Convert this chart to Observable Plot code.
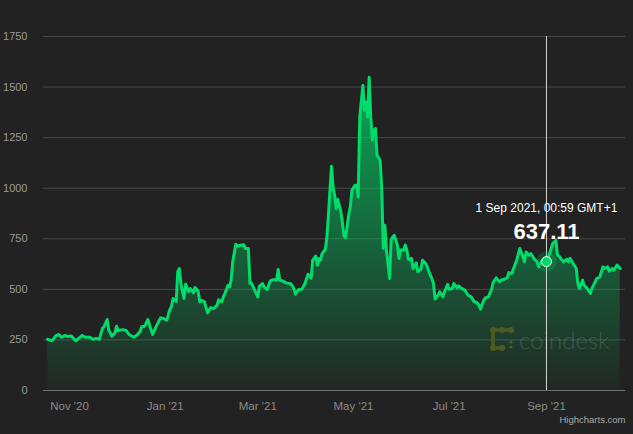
<!DOCTYPE html>
<html><head><meta charset="utf-8">
<script src="https://cdn.jsdelivr.net/npm/d3@7"></script>
<script src="https://cdn.jsdelivr.net/npm/@observablehq/plot@0.6"></script>
<style>
html,body{margin:0;padding:0;background:#222;}
#chart{width:633px;height:434px;}
</style></head><body><div id="chart"></div>
<script>
const dates = ["2020-10-18","2020-10-21","2020-10-23","2020-10-25","2020-10-27","2020-10-29","2020-10-31","2020-11-02","2020-11-05","2020-11-07","2020-11-09","2020-11-11","2020-11-14","2020-11-16","2020-11-18","2020-11-20","2020-11-22","2020-11-23","2020-11-25","2020-11-26","2020-11-28","2020-11-30","2020-12-01","2020-12-02","2020-12-05","2020-12-07","2020-12-09","2020-12-12","2020-12-14","2020-12-16","2020-12-17","2020-12-19","2020-12-21","2020-12-22","2020-12-24","2020-12-26","2020-12-27","2020-12-29","2020-12-31","2021-01-02","2021-01-04","2021-01-05","2021-01-06","2021-01-08","2021-01-09","2021-01-10","2021-01-11","2021-01-13","2021-01-14","2021-01-16","2021-01-17","2021-01-19","2021-01-20","2021-01-22","2021-01-23","2021-01-24","2021-01-26","2021-01-28","2021-01-30","2021-02-01","2021-02-03","2021-02-04","2021-02-06","2021-02-07","2021-02-08","2021-02-10","2021-02-11","2021-02-12","2021-02-13","2021-02-15","2021-02-16","2021-02-18","2021-02-20","2021-02-21","2021-02-23","2021-02-24","2021-02-25","2021-02-27","2021-03-01","2021-03-02","2021-03-04","2021-03-05","2021-03-07","2021-03-09","2021-03-11","2021-03-13","2021-03-14","2021-03-15","2021-03-17","2021-03-19","2021-03-22","2021-03-24","2021-03-25","2021-03-27","2021-03-29","2021-03-31","2021-04-02","2021-04-04","2021-04-05","2021-04-07","2021-04-08","2021-04-09","2021-04-10","2021-04-11","2021-04-13","2021-04-14","2021-04-15","2021-04-16","2021-04-17","2021-04-18","2021-04-19","2021-04-20","2021-04-21","2021-04-23","2021-04-24","2021-04-25","2021-04-26","2021-04-28","2021-04-29","2021-04-30","2021-05-02","2021-05-03","2021-05-04","2021-05-05","2021-05-07","2021-05-08","2021-05-09","2021-05-10","2021-05-11","2021-05-12","2021-05-13","2021-05-14","2021-05-15","2021-05-16","2021-05-18","2021-05-19","2021-05-20","2021-05-21","2021-05-22","2021-05-24","2021-05-25","2021-05-26","2021-05-27","2021-05-29","2021-05-30","2021-05-31","2021-06-02","2021-06-03","2021-06-04","2021-06-05","2021-06-07","2021-06-08","2021-06-10","2021-06-11","2021-06-13","2021-06-14","2021-06-16","2021-06-17","2021-06-19","2021-06-20","2021-06-21","2021-06-22","2021-06-24","2021-06-25","2021-06-27","2021-06-28","2021-06-30","2021-07-01","2021-07-03","2021-07-04","2021-07-06","2021-07-07","2021-07-09","2021-07-11","2021-07-13","2021-07-15","2021-07-17","2021-07-18","2021-07-20","2021-07-21","2021-07-23","2021-07-24","2021-07-26","2021-07-28","2021-07-29","2021-07-31","2021-08-02","2021-08-03","2021-08-05","2021-08-07","2021-08-08","2021-08-10","2021-08-11","2021-08-13","2021-08-15","2021-08-17","2021-08-18","2021-08-19","2021-08-21","2021-08-22","2021-08-24","2021-08-26","2021-08-27","2021-08-29","2021-08-30","2021-09-01","2021-09-02","2021-09-04","2021-09-05","2021-09-07","2021-09-08","2021-09-09","2021-09-10","2021-09-12","2021-09-14","2021-09-15","2021-09-16","2021-09-18","2021-09-20","2021-09-21","2021-09-22","2021-09-24","2021-09-25","2021-09-27","2021-09-29","2021-09-30","2021-10-02","2021-10-03","2021-10-05","2021-10-07","2021-10-08","2021-10-10","2021-10-11","2021-10-13","2021-10-14","2021-10-16","2021-10-18"];
const prices = [253,246,269,277,263,272,267,270,246,258,272,263,263,253,258,253,307,315,351,299,269,285,318,297,301,297,277,263,274,291,315,318,351,323,277,313,328,359,356,348,401,415,455,440,587,603,529,455,526,488,504,483,509,491,438,446,438,384,410,405,421,448,438,462,479,520,512,545,636,723,714,718,721,702,702,529,531,496,462,515,529,512,499,542,548,545,598,545,541,532,528,505,476,499,499,528,575,555,644,664,619,652,644,677,697,751,866,990,1108,1006,965,899,944,883,825,763,755,870,908,990,1015,1015,957,1352,1508,1385,1426,1352,1549,1352,1237,1286,1295,1163,1138,1000,702,817,694,554,743,759,767,719,653,694,694,719,694,648,653,603,631,587,600,644,628,611,570,553,529,452,471,488,463,488,524,500,504,529,507,517,504,496,471,463,438,438,422,402,446,458,463,500,534,557,537,545,550,557,583,578,603,644,702,660,636,685,669,677,653,636,611,640,636,637.11,653,702,727,743,669,665,653,636,649,636,653,628,603,529,505,545,520,505,480,505,537,553,561,611,603,611,590,603,595,620,603];
const yTicks = [0,250,500,750,1000,1250,1500,1750];
const xTickDates = ["2020-11-01","2021-01-01","2021-03-01","2021-05-01","2021-07-01","2021-09-01"];
const xTickLabels = ["Nov '20","Jan '21","Mar '21","May '21","Jul '21","Sep '21"];
const hoverDate = "2021-09-01";
const hoverLabel = "1 Sep 2021, 00:59 GMT+1";
const watermark = "coindesk";
const credit = "Highcharts.com";

const data = dates.map((d, i) => ({date: new Date(d), price: prices[i]}));
const hover = data.filter(d => +d.date === +new Date(hoverDate));
const labelByTime = new Map(xTickDates.map((d, i) => [+new Date(d), xTickLabels[i]]));
const green = "#00dc6a";
const font = "'Liberation Sans', Arial, sans-serif";

const chart = Plot.plot({
  width: 633, height: 434,
  marginLeft: 43, marginRight: 8, marginTop: 36, marginBottom: 44,
  style: {background: "#222", fontFamily: font, overflow: "visible"},
  x: {type: "utc", label: null, domain: [new Date("2020-10-15T10:00Z"), new Date("2021-10-21T09:00Z")]},
  y: {label: null, domain: [0, 1750]},
  marks: [
    Plot.ruleY(yTicks.slice(1), {stroke: "#474747", strokeWidth: 1}),
    Plot.areaY(data, {x: "date", y: "price", fill: "url(#areaGrad)"}),
    Plot.ruleY([0], {stroke: "#707070", strokeWidth: 1}),
    Plot.text([watermark], {frameAnchor: "bottom-right", dx: -16, dy: -42, textAnchor: "end", lineAnchor: "bottom", fontSize: 24, fill: "#ffffff", fillOpacity: 0.16, fontFamily: "Lato", fontWeight: 300}),
    Plot.line(data, {x: "date", y: "price", stroke: green, strokeWidth: 3, strokeLinejoin: "round"}),
    Plot.ruleX(hover, {x: "date", y1: 0, y2: 1750, stroke: "#d8d8d8", strokeWidth: 1}),
    Plot.dot(hover, {x: "date", y: "price", r: 10, fill: green, fillOpacity: 0.2}),
    Plot.dot(hover, {x: "date", y: "price", r: 5, fill: green, stroke: "#ffffff", strokeWidth: 1}),
    Plot.text(hover, {x: "date", y: "price", text: () => hoverLabel, dy: -50, lineAnchor: "bottom", fontSize: 12, fill: "#ffffff"}),
    Plot.text(hover, {x: "date", y: "price", text: d => d.price.toFixed(2), dy: -23, lineAnchor: "bottom", fontSize: 22, fontWeight: "bold", fill: "#ffffff"}),
    Plot.axisY({ticks: yTicks, tickSize: 0, tickPadding: 16, tickFormat: d3.format("d"), fill: "#999", fontSize: 11}),
    Plot.axisX({ticks: xTickDates.map(d => new Date(d)), tickSize: 0, tickPadding: 11, tickFormat: d => labelByTime.get(+d), fill: "#8a8a8a", fontSize: 11.5}),
    Plot.text([credit], {frameAnchor: "bottom-right", dy: 32, textAnchor: "end", lineAnchor: "bottom", fontSize: 9.5, fill: "#aaaaaa"})
  ]
});

// gradient for the area fill
const svg = d3.select(chart);
const grad = svg.insert("defs", ":first-child").append("linearGradient")
  .attr("id", "areaGrad").attr("x1", 0).attr("y1", 0).attr("x2", 0).attr("y2", 1);
grad.append("stop").attr("offset", 0).attr("stop-color", green).attr("stop-opacity", 0.72);
grad.append("stop").attr("offset", 1).attr("stop-color", green).attr("stop-opacity", 0.03);

// coindesk logo glyph next to the watermark word
const xr = chart.scale("x").range, yr = chart.scale("y").range;
const ox = xr[1] - 134, oy = yr[0] - 62;
const logo = svg.append("g").attr("transform", `translate(${ox},${oy})`).attr("fill", "#4e5c22").attr("stroke", "#4e5c22");
logo.append("path").attr("d", "M2,2H20M2,2V20H13").attr("fill", "none").attr("stroke-width", 3.5).attr("stroke-linecap", "round");
[[2,2],[11,2],[20,2],[2,20],[11,20]].forEach(([cx, cy]) => logo.append("circle").attr("cx", cx).attr("cy", cy).attr("r", 3).attr("stroke", "none"));
[[20,14],[20,19]].forEach(([cx, cy]) => logo.append("circle").attr("cx", cx).attr("cy", cy).attr("r", 1.6).attr("stroke", "none"));

document.getElementById("chart").appendChild(chart);
</script>
</body></html>
